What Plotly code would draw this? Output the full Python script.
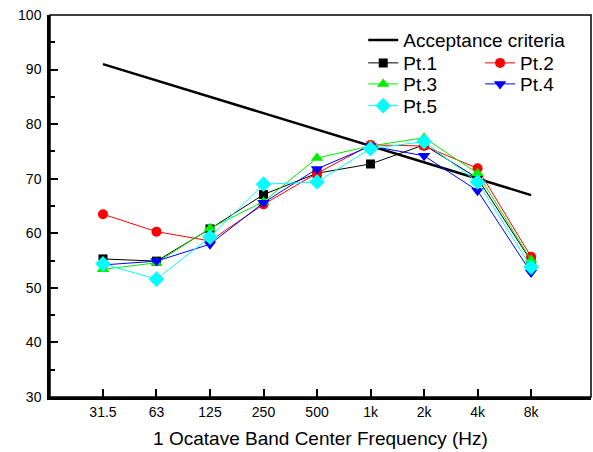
import plotly.graph_objects as go

freqs = ["31.5", "63", "125", "250", "500", "1k", "2k", "4k", "8k"]
criteria_x = ["31.5", "8k"]
criteria_y = [91, 67]
pt1 = [55.3, 54.9, 60.8, 67.1, 71.0, 72.7, 76.2, 70.1, 54.9]
pt2 = [63.5, 60.3, 58.6, 65.3, 71.0, 76.2, 76.0, 71.9, 55.7]
pt3 = [53.4, 54.6, 60.9, 65.8, 73.8, 76.0, 77.5, 71.0, 55.1]
pt4 = [54.2, 54.9, 58.0, 65.6, 71.8, 76.0, 74.2, 67.8, 52.8]
pt5 = [54.4, 51.6, 59.3, 69.0, 69.4, 75.5, 76.8, 69.4, 53.8]

FONT = "Liberation Sans, Arial, sans-serif"
LEG_SIZE = 19

fig = go.Figure()
fig.add_trace(go.Scatter(x=criteria_x, y=criteria_y, mode="lines", name="Acceptance criteria",
                         line=dict(color="black", width=2.5), legend="legend"))

series = [
    ("Pt.1", pt1, "black", "square", 9, "legend2"),
    ("Pt.2", pt2, "red", "circle", 10, "legend3"),
    ("Pt.3", pt3, "#00ee00", "triangle-up", 11, "legend4"),
    ("Pt.4", pt4, "blue", "triangle-down", 11, "legend5"),
    ("Pt.5", pt5, "cyan", "diamond", 12, "legend6"),
]
for name, vals, color, sym, size, lg in series:
    fig.add_trace(go.Scatter(x=freqs, y=vals, mode="lines+markers", name=name,
                             line=dict(color=color, width=1),
                             marker=dict(symbol=sym, size=size, color=color, line=dict(width=0)),
                             legend=lg))

def leg(x, y):
    return dict(x=x, y=y, xanchor="left", yanchor="top", bgcolor="rgba(0,0,0,0)",
                font=dict(size=LEG_SIZE), tracegroupgap=0)

C1, C2 = 0.579, 0.795
fig.update_layout(
    width=593, height=452,
    margin=dict(l=50, r=2, t=15, b=55),
    paper_bgcolor="white", plot_bgcolor="white",
    font=dict(family=FONT, size=14, color="black"),
    showlegend=True,
    legend=leg(C1, 0.984),
    legend2=leg(C1, 0.924),
    legend3=leg(C2, 0.924),
    legend4=leg(C1, 0.869),
    legend5=leg(C2, 0.869),
    legend6=leg(C1, 0.812),
    xaxis=dict(type="category", categoryorder="array", categoryarray=freqs,
               range=[-0.99, 9.12], showgrid=False, zeroline=False,
               showline=True, linecolor="black", linewidth=2.5,
               ticks="inside", ticklen=8, tickwidth=1.5, tickcolor="black",
               title=dict(text="1 Ocatave Band Center Frequency (Hz)", font=dict(size=LEG_SIZE), standoff=14)),
    yaxis=dict(range=[30, 100], dtick=10, showgrid=False, zeroline=False,
               showline=True, linecolor="black", linewidth=2.5,
               ticks="inside", ticklen=8, tickwidth=1.5, tickcolor="black", ticklabelstandoff=3,
               minor=dict(ticks="inside", ticklen=5, tickwidth=1.5, dtick=5, tickcolor="black", showgrid=False)),
    shapes=[dict(type="rect", xref="paper", yref="paper", x0=0, x1=1, y0=0, y1=1,
                 line=dict(color="black", width=1.5), layer="above")],
)

fig.write_html("out.html", config={"displayModeBar": False},
               post_script="document.body.style.margin='0';")
